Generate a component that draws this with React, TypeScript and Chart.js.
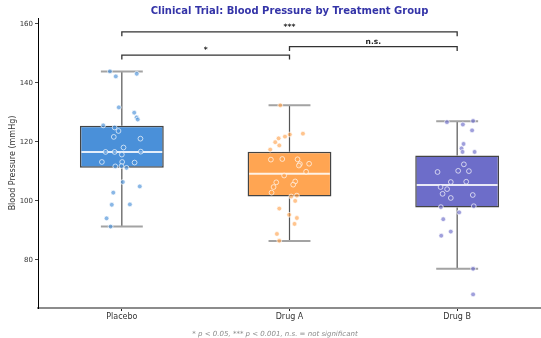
import React, { useEffect, useRef } from 'react';
import { Chart, registerables } from 'chart.js';

Chart.register(...registerables);

// Treatment groups and box-plot summary (mmHg)
const groups = ['Placebo', 'Drug A', 'Drug B'];
const q1 = [111.2, 101.5, 97.8];
const q3 = [125.5, 116.7, 115.4];
const medians = [116.6, 109.2, 105.4];
const whiskerLow = [91.3, 86.4, 77.0];
const whiskerHigh = [143.9, 132.4, 127.0];

// Individual patient readings (mmHg) with their horizontal jitter (category units)
const placeboBP = [143.9, 142.2, 143.1, 131.7, 129.9, 128.3, 127.6, 125.6, 124.9, 123.7, 121.7, 121.1, 118.1, 116.6, 116.6, 116.7, 115.7, 113.2, 113.2, 113.0, 111.7, 111.8, 111.2, 106.4, 104.9, 102.8, 98.7, 98.8, 94.1, 91.3];
const placeboJitter = [-0.071, -0.036, 0.089, -0.018, 0.074, 0.088, 0.095, -0.111, -0.043, -0.020, -0.048, 0.111, 0.010, -0.097, -0.043, 0.113, 0.000, -0.119, 0.002, 0.076, -0.039, -0.002, 0.028, 0.006, 0.107, -0.051, -0.060, 0.048, -0.091, -0.067];

const drugABP = [132.4, 122.5, 122.8, 121.8, 121.2, 119.9, 118.8, 117.4, 114.0, 114.2, 114.1, 112.6, 112.5, 112.0, 109.9, 108.6, 106.6, 106.3, 105.5, 104.7, 102.8, 101.5, 101.8, 100.0, 97.4, 95.3, 94.2, 92.2, 88.8, 86.5];
const drugAJitter = [-0.055, 0.002, 0.080, -0.027, -0.065, -0.085, -0.061, -0.115, -0.111, -0.043, 0.048, 0.117, 0.062, 0.056, 0.099, -0.032, 0.034, -0.079, 0.022, -0.095, -0.107, 0.010, 0.044, 0.034, -0.061, -0.002, 0.044, 0.030, -0.075, -0.061];

const drugBBP = [126.7, 127.1, 125.9, 123.9, 119.3, 117.8, 116.6, 116.6, 112.4, 109.8, 110.2, 110.1, 106.4, 106.5, 104.7, 104.0, 102.4, 102.0, 101.0, 97.9, 98.2, 96.1, 93.8, 89.6, 88.2, 77.0, 68.3];
const drugBJitter = [-0.061, 0.095, 0.034, 0.089, 0.038, 0.026, 0.032, 0.104, 0.040, -0.117, 0.006, 0.070, -0.038, 0.054, -0.099, -0.060, -0.087, 0.093, -0.038, -0.097, 0.099, 0.012, -0.083, -0.038, -0.095, 0.095, 0.095];

const yTicks = [80, 100, 120, 140, 160];

// Pairwise significance brackets
const bracketFrom = [0, 1, 0];
const bracketTo = [1, 2, 2];
const bracketBase = [147.9, 150.8, 155.8];
const bracketLabels = ['*', 'n.s.', '***'];

const titleText = 'Clinical Trial: Blood Pressure by Treatment Group';
const footnoteText = '* p < 0.05, *** p < 0.001, n.s. = not significant';

const groupColors = ['#4a90d9', '#ffa552', '#6d6dc9'];
const pointColors = ['rgba(74,144,217,0.65)', 'rgba(255,165,82,0.65)', 'rgba(109,109,201,0.65)'];
const FONT = '"DejaVu Sans", "Liberation Sans", sans-serif';

const readings = [placeboBP, drugABP, drugBBP];
const jitters = [placeboJitter, drugAJitter, drugBJitter];

const boxDecor = {
  id: 'boxDecor',
  afterDatasetDraw(chart: any, args: any) {
    if (args.meta.type !== 'bar') return;
    const { ctx } = chart;
    const y = chart.scales.y;
    args.meta.data.forEach((bar: any, i: number) => {
      const cx = bar.x;
      const half = bar.width / 2;
      const capHalf = half / 2;
      ctx.save();
      // whiskers
      ctx.strokeStyle = '#555555';
      ctx.lineWidth = 1.2;
      ctx.beginPath();
      ctx.moveTo(cx, y.getPixelForValue(q3[i]));
      ctx.lineTo(cx, y.getPixelForValue(whiskerHigh[i]));
      ctx.moveTo(cx, y.getPixelForValue(q1[i]));
      ctx.lineTo(cx, y.getPixelForValue(whiskerLow[i]));
      ctx.stroke();
      // caps
      ctx.strokeStyle = '#a3a3a3';
      ctx.lineWidth = 2;
      ctx.beginPath();
      [whiskerHigh[i], whiskerLow[i]].forEach((v) => {
        const py = y.getPixelForValue(v);
        ctx.moveTo(cx - capHalf, py);
        ctx.lineTo(cx + capHalf, py);
      });
      ctx.stroke();
      // median
      ctx.strokeStyle = 'rgba(255,255,255,0.85)';
      ctx.lineWidth = 2;
      const my = y.getPixelForValue(medians[i]);
      ctx.beginPath();
      ctx.moveTo(cx - half + 1.5, my);
      ctx.lineTo(cx + half - 1.5, my);
      ctx.stroke();
      ctx.restore();
    });
  },
  afterDraw(chart: any) {
    const { ctx, chartArea } = chart;
    const x = chart.scales.x;
    const y = chart.scales.y;
    ctx.save();
    // title
    ctx.fillStyle = '#3434a8';
    ctx.font = `bold 10px ${FONT}`;
    ctx.textAlign = 'center';
    ctx.textBaseline = 'middle';
    ctx.fillText(titleText, (chartArea.left + chartArea.right) / 2, 11);

    // significance brackets
    const rise = 1.5;
    bracketLabels.forEach((label, k) => {
      const x1 = x.getPixelForValue(bracketFrom[k]);
      const x2 = x.getPixelForValue(bracketTo[k]);
      const yb = y.getPixelForValue(bracketBase[k]);
      const yt = y.getPixelForValue(bracketBase[k] + rise);
      ctx.strokeStyle = '#333333';
      ctx.lineWidth = 1.3;
      ctx.beginPath();
      ctx.moveTo(x1, yb);
      ctx.lineTo(x1, yt);
      ctx.lineTo(x2, yt);
      ctx.lineTo(x2, yb);
      ctx.stroke();
      ctx.fillStyle = '#222222';
      ctx.font = `bold 7.5px ${FONT}`;
      ctx.textAlign = 'center';
      ctx.textBaseline = 'bottom';
      ctx.fillText(label, (x1 + x2) / 2, yt - 1);
    });

    // footnote
    ctx.fillStyle = '#8a8a8a';
    ctx.font = `italic 7px ${FONT}`;
    ctx.textAlign = 'center';
    ctx.textBaseline = 'middle';
    ctx.fillText(footnoteText, 275, 334);
    ctx.restore();
  },
};

export default function App() {
  const canvasRef = useRef<HTMLCanvasElement | null>(null);

  useEffect(() => {
    const canvas = canvasRef.current;
    if (!canvas) return;

    const scatterSets = groups.map((g, i) => ({
      type: 'scatter' as const,
      label: g + ' readings',
      data: readings[i].map((v, j) => ({ x: i + jitters[i][j], y: v })),
      xAxisID: 'xj',
      yAxisID: 'y',
      pointRadius: 2.4,
      pointBackgroundColor: pointColors[i],
      pointBorderColor: 'rgba(255,255,255,0.85)',
      pointBorderWidth: 0.8,
      order: 0,
    }));

    const chart = new Chart(canvas, {
      type: 'bar',
      data: {
        labels: groups,
        datasets: [
          ...scatterSets,
          {
            type: 'bar' as const,
            label: 'IQR',
            data: q1.map((v, i) => [v, q3[i]]),
            backgroundColor: groupColors,
            borderColor: '#444444',
            borderWidth: 1.5,
            borderSkipped: false,
            grouped: false,
            categoryPercentage: 1,
            barPercentage: 0.5,
            xAxisID: 'x',
            yAxisID: 'y',
            order: 1,
          } as any,
        ],
      },
      options: {
        responsive: false,
        animation: false,
        layout: { autoPadding: false, padding: { top: 18, right: 0, bottom: 0, left: 0 } },
        plugins: {
          legend: { display: false },
          tooltip: { enabled: false },
          title: { display: false },
        },
        scales: {
          x: {
            type: 'category',
            offset: true,
            grid: { offset: false, drawOnChartArea: false, drawTicks: true, tickLength: 3, color: '#222222' },
            border: { display: true, color: '#8c8c8c', width: 2 },
            ticks: { color: '#333333', font: { family: FONT, size: 8 }, padding: 1 },
            afterFit: (scale: any) => {
              scale.height = 30;
              scale.paddingLeft = 0;
              scale.paddingRight = 0;
            },
          },
          xj: {
            type: 'linear',
            display: false,
            offset: false,
            grid: { offset: false },
            min: -0.5,
            max: 2.5,
          },
          y: {
            type: 'linear',
            min: 63.7,
            max: 162,
            afterBuildTicks: (scale: any) => { scale.ticks = yTicks.map((v) => ({ value: v })); },
            grid: { drawOnChartArea: false, drawTicks: true, tickLength: 3, color: '#444444' },
            border: { display: true, color: '#000000', width: 1 },
            ticks: { color: '#333333', font: { family: FONT, size: 7 }, padding: 2, callback: (v: any) => String(v) },
            title: {
              display: true,
              text: 'Blood Pressure (mmHg)',
              color: '#333333',
              font: { family: FONT, size: 8 },
              padding: { top: 7.7, bottom: 0 },
            },
            afterFit: (scale: any) => {
              scale.width = 38;
              scale.paddingTop = 0;
              scale.paddingBottom = 0;
            },
          },
        },
      },
      plugins: [boxDecor],
    });

    return () => chart.destroy();
  }, []);

  return (
    <div style={{ position: 'fixed', left: 0, top: 0, width: 541, height: 338, background: '#ffffff' }}>
      <canvas ref={canvasRef} width={541} height={338} style={{ display: 'block' }} />
    </div>
  );
}
